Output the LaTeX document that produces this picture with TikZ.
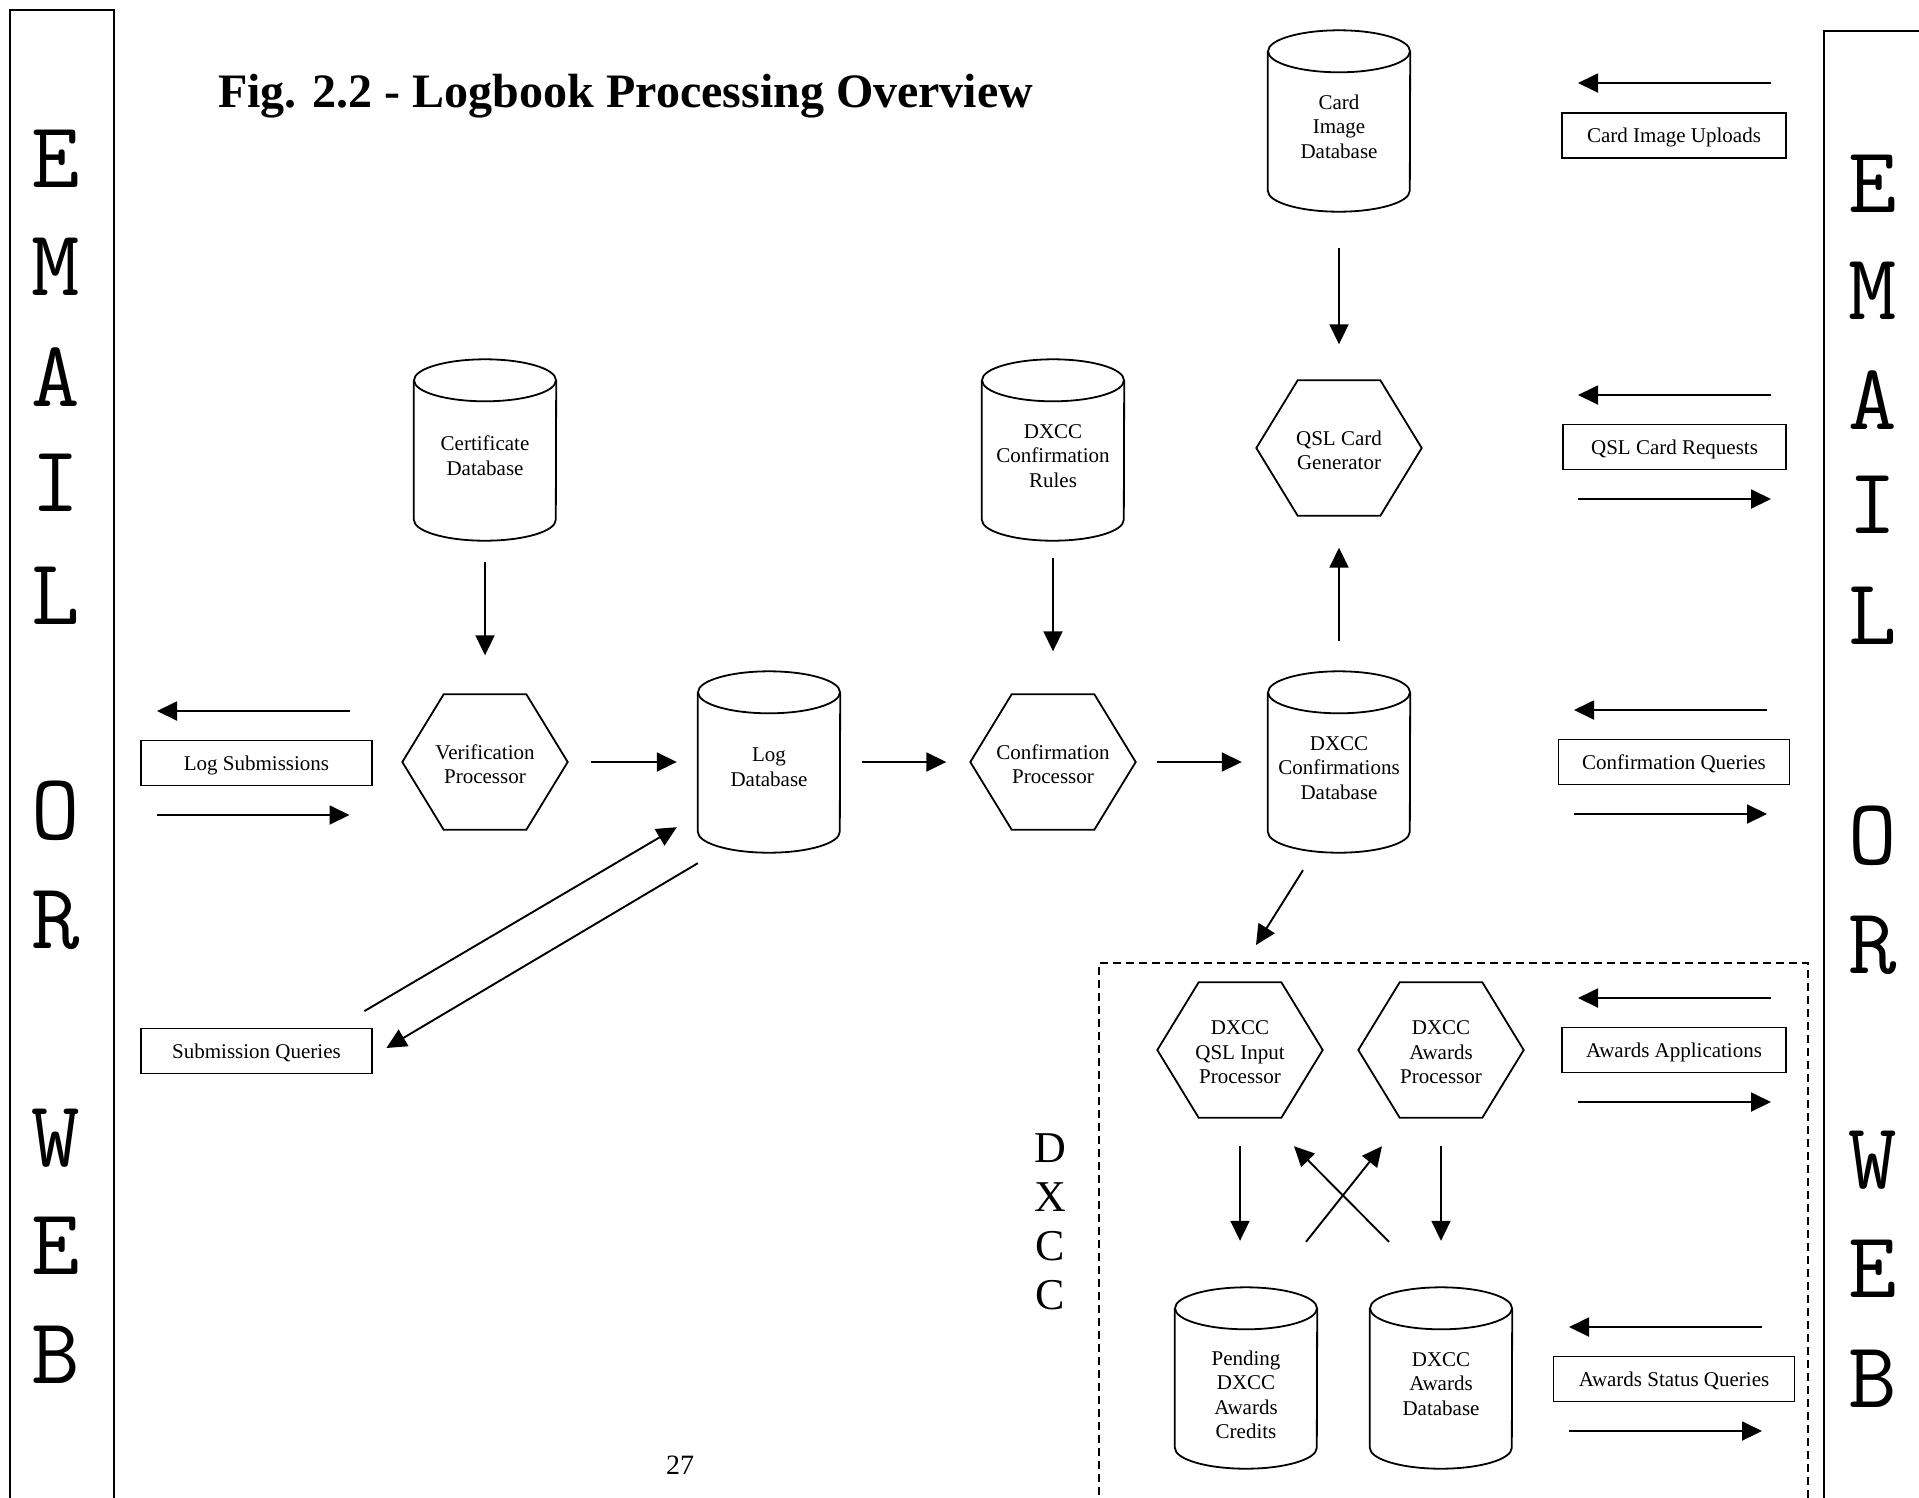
\documentclass[tikz,border=0pt]{standalone}
\usepackage{fontspec}
\setmainfont{Liberation Serif}
\usetikzlibrary{arrows.meta,calc}
\newcommand\myrule[1]{\rule{0pt}{#1}}
\begin{document}
\begin{tikzpicture}[x=1pt,y=-1pt,
  every node/.style={font=\fontsize{21}{24.5}\selectfont, align=center, inner sep=0pt},
  lw/.style={line width=1.8pt},
  cyl/.style={minimum width=142pt, minimum height=181pt},
  hexa/.style={minimum width=165pt, minimum height=135pt},
  lbox/.style={draw, line width=1.8pt, minimum height=45pt, execute at begin node={\rule{0pt}{19pt}}},
  frame/.style={draw, line width=1.8pt},
  arr/.style={line width=1.9pt, -{Triangle[length=20pt,width=19pt]}},
  bigletter/.style={font=\ttfamily\fontsize{94}{94}\selectfont},
]
\useasboundingbox (0,0) rectangle (1919,1497);
\clip (0,0) rectangle (1919,1497);

% side frames
\node[frame, minimum width=104pt, minimum height=1520pt] (lframe) at (62,770) {};
\node[frame, minimum width=116pt, minimum height=1499pt] (rframe) at (1882,780.5) {};
\foreach \ch/\yy in {E/159, M/267, A/377, I/483, L/596, O/811, R/920, W/1138, E/1246, B/1355}
  \node[bigletter] (l\yy) at (56,\yy) {\ch};
\foreach \ch/\yy in {E/184, M/291, A/400, I/505, L/616, O/836, R/945, W/1160, E/1269, B/1379}
  \node[bigletter] (r\yy) at (1873,\yy) {\ch};

% title
\node[font=\bfseries\fontsize{48}{56}\selectfont, anchor=base west] (title) at (218,107) {Fig. 2.2 - Logbook Processing Overview};

% cylinders
\node[cyl] (cimg) at (1339,121) {\myrule{26pt}Card\\Image\\Database};
\node[cyl] (cert) at (485,450) {\myrule{26pt}Certificate\\Database};
\node[cyl] (rules) at (1053,450) {\myrule{26pt}DXCC\\Confirmation\\Rules};
\node[cyl] (logdb) at (769,762) {\myrule{24pt}Log\\Database};
\node[cyl] (confdb) at (1339,762) {\myrule{26pt}DXCC\\Confirmations\\Database};
\node[cyl] (pend) at (1246,1378) {\myrule{48pt}Pending\\DXCC\\Awards\\Credits};
\node[cyl] (awdb) at (1441,1378) {\myrule{26pt}DXCC\\Awards\\Database};
\foreach \nm in {cimg,cert,rules,logdb,confdb,pend,awdb}{
  \draw[lw] ($(\nm.north)+(0pt,-21pt)$) ellipse [x radius=71pt, y radius=21pt];
  \draw[lw] ($(\nm.north west)+(0pt,-21pt)$) -- ($(\nm.south west)+(0pt,21pt)$)
     arc[start angle=180, end angle=360, x radius=71pt, y radius=21pt] -- ($(\nm.north east)+(0pt,-21pt)$);
}

% hexagons
\node[hexa] (qslgen) at (1339,448) {\myrule{19pt}QSL Card\\Generator};
\node[hexa] (verif) at (485,762) {\myrule{19pt}Verification\\Processor};
\node[hexa] (confproc) at (1053,762) {\myrule{19pt}Confirmation\\Processor};
\node[hexa] (dxqsl) at (1240,1050) {\myrule{19pt}DXCC\\QSL Input\\Processor};
\node[hexa] (dxaw) at (1441,1050) {\myrule{19pt}DXCC\\Awards\\Processor};
\foreach \nm in {qslgen,verif,confproc,dxqsl,dxaw}{
  \draw[lw] (\nm.west) -- ($(\nm.north west)!0.25!(\nm.north east)$) -- ($(\nm.north west)!0.75!(\nm.north east)$)
    -- (\nm.east) -- ($(\nm.south west)!0.75!(\nm.south east)$) -- ($(\nm.south west)!0.25!(\nm.south east)$) -- cycle;
}

% label boxes
\node[lbox, minimum width=231pt] (logsub) at (256.5,763) {Log Submissions};
\node[lbox, minimum width=231pt] (subq) at (256.5,1051) {Submission Queries};
\node[lbox, minimum width=224pt] (cimgup) at (1674,135.5) {Card Image Uploads};
\node[lbox, minimum width=223pt] (qslreq) at (1674.5,447) {QSL Card Requests};
\node[lbox, minimum width=231pt] (confq) at (1674,762) {Confirmation Queries};
\node[lbox, minimum width=224pt] (awapp) at (1674,1050) {Awards Applications};
\node[lbox, minimum width=241pt] (awsq) at (1674,1379) {Awards Status Queries};

% DXCC dashed region
\node[draw, line width=1.5pt, dash pattern=on 8pt off 5pt, minimum width=709pt, minimum height=567pt] (dxbox) at (1453.5,1246.5) {};
\node[font=\fontsize{44}{49}\selectfont] (dxlbl) at (1050,1222) {D\\X\\C\\C};
\coordinate (dxin) at (1256,945);

% page number
\node[font=\fontsize{28}{30}\selectfont] (pg) at (680,1465) {27};

% main arrows
\draw[arr, shorten <=36pt, shorten >=36pt] (cimg) -- (qslgen);
\draw[arr, shorten <=30pt, shorten >=32pt] (confdb) -- (qslgen);
\draw[arr, shorten <=21pt, shorten >=39pt] (cert) -- (verif);
\draw[arr, shorten <=17pt, shorten >=43pt] (rules) -- (confproc);
\draw[arr, shorten <=23pt, shorten >=21pt] (verif) -- (logdb);
\draw[arr, shorten <=22pt, shorten >=24pt] (logdb) -- (confproc);
\draw[arr, shorten <=21pt, shorten >=26pt] (confproc) -- (confdb);
\draw[arr] ($(confdb.south)+(-36,17.5)$) -- (dxin);
\draw[arr] ($(subq.north east)+(-8.5,-16.5)$) -- ($(logdb.south west)+(-21,-25.5)$);
\draw[arr] ($(logdb.south west)+(0,10.5)$) -- ($(subq.east)+(13.5,-3)$);

% DXCC internal arrows
\draw[arr] ($(dxqsl.south)+(0,28.5)$) -- ($(dxqsl.south |- pend.north)+(0,-46.5)$);
\draw[arr, shorten <=28.5pt, shorten >=46.5pt] (dxaw) -- (awdb);
\draw[arr] ($(awdb.north)+(-52,-45.5)$) -- ($(dxqsl.south)+(54,28.5)$);
\draw[arr] ($(pend.north)+(60,-45.5)$) -- ($(dxaw.south)+(-59,28.5)$);

% side arrows
\foreach \bx/\xa/\xb in {logsub/93/-99.5, qslreq/96.5/-96.5, confq/93/-100, awapp/97/-96, awsq/88/-105}{
  \draw[arr] ([shift={(\xa,-52)}]\bx.center) -- ([shift={(\xb,-52)}]\bx.center);
  \draw[arr] ([shift={(\xb,52)}]\bx.center) -- ([shift={(\xa,52)}]\bx.center);
}
\draw[arr] ([shift={(97,-52.5)}]cimgup.center) -- ([shift={(-96,-52.5)}]cimgup.center);
\end{tikzpicture}
\end{document}
